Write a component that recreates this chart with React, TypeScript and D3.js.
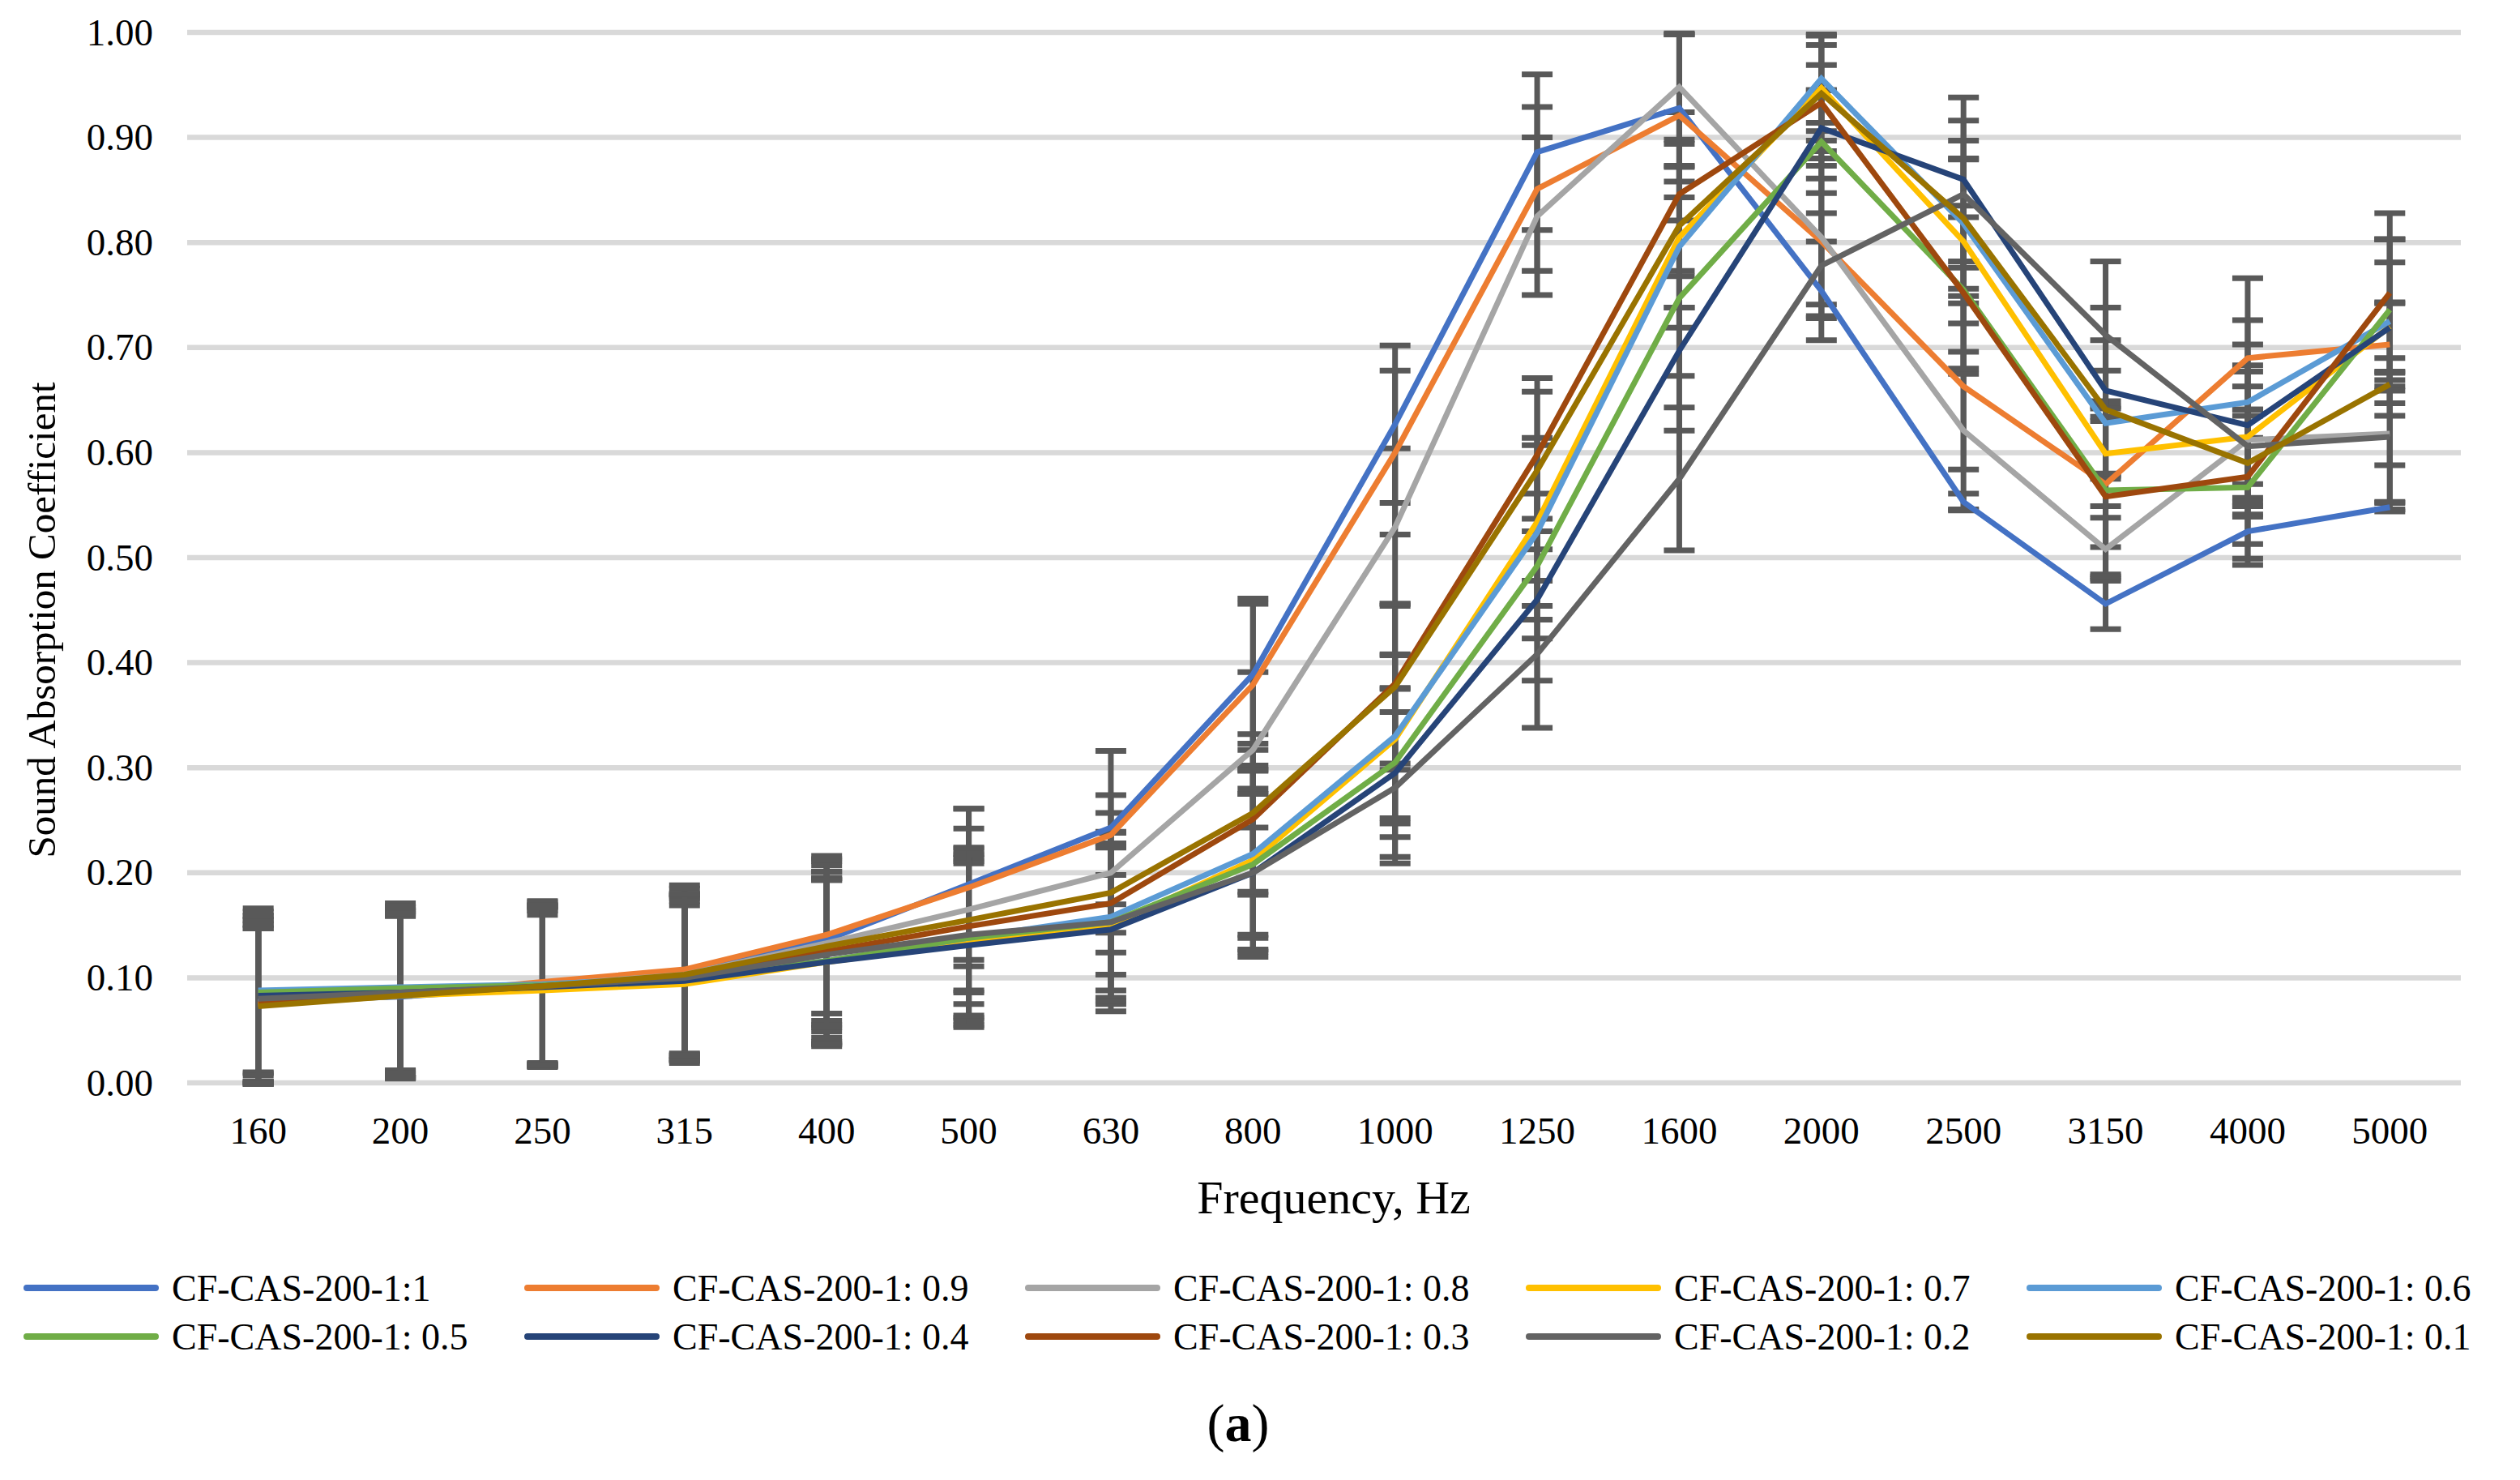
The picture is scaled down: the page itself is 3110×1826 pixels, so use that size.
import * as d3 from "d3";
import { useEffect, useRef } from "react";

const freqs = ["160", "200", "250", "315", "400", "500", "630", "800", "1000", "1250", "1600", "2000", "2500", "3150", "4000", "5000"];

const yTicks = [0, 0.1, 0.2, 0.3, 0.4, 0.5, 0.6, 0.7, 0.8, 0.9, 1.0];

const names = [
  "CF-CAS-200-1:1",
  "CF-CAS-200-1: 0.9",
  "CF-CAS-200-1: 0.8",
  "CF-CAS-200-1: 0.7",
  "CF-CAS-200-1: 0.6",
  "CF-CAS-200-1: 0.5",
  "CF-CAS-200-1: 0.4",
  "CF-CAS-200-1: 0.3",
  "CF-CAS-200-1: 0.2",
  "CF-CAS-200-1: 0.1",
];

const colors = ["#4472C4", "#ED7D31", "#A5A5A5", "#FFC000", "#5B9BD5", "#70AD47", "#264478", "#9E480E", "#636363", "#997300"];

// absorption coefficient per series
const s10 = [0.078, 0.082, 0.091, 0.106, 0.136, 0.189, 0.243, 0.389, 0.627, 0.886, 0.928, 0.754, 0.553, 0.456, 0.525, 0.548];
const s09 = [0.075, 0.084, 0.096, 0.108, 0.141, 0.186, 0.236, 0.379, 0.600, 0.851, 0.921, 0.801, 0.663, 0.570, 0.690, 0.703];
const s08 = [0.077, 0.085, 0.093, 0.103, 0.133, 0.165, 0.200, 0.317, 0.529, 0.825, 0.948, 0.805, 0.621, 0.508, 0.612, 0.618];
const s07 = [0.074, 0.083, 0.088, 0.094, 0.115, 0.133, 0.150, 0.212, 0.327, 0.534, 0.805, 0.947, 0.801, 0.599, 0.615, 0.720];
const s06 = [0.088, 0.091, 0.094, 0.100, 0.116, 0.138, 0.158, 0.218, 0.330, 0.524, 0.796, 0.956, 0.818, 0.628, 0.648, 0.725];
const s05 = [0.086, 0.090, 0.093, 0.099, 0.116, 0.138, 0.153, 0.208, 0.305, 0.492, 0.747, 0.896, 0.755, 0.564, 0.567, 0.736];
const s04 = [0.083, 0.086, 0.091, 0.097, 0.115, 0.131, 0.146, 0.200, 0.295, 0.460, 0.697, 0.909, 0.860, 0.659, 0.626, 0.719];
const s03 = [0.075, 0.084, 0.092, 0.101, 0.125, 0.149, 0.171, 0.251, 0.380, 0.598, 0.846, 0.933, 0.752, 0.558, 0.577, 0.752];
const s02 = [0.080, 0.086, 0.092, 0.100, 0.122, 0.141, 0.153, 0.200, 0.281, 0.408, 0.575, 0.778, 0.846, 0.712, 0.606, 0.615];
const s01 = [0.073, 0.083, 0.092, 0.103, 0.130, 0.155, 0.181, 0.257, 0.377, 0.583, 0.816, 0.942, 0.823, 0.641, 0.590, 0.665];

// error bar half-lengths per series
const e10 = [0.077, 0.077, 0.074, 0.079, 0.077, 0.072, 0.073, 0.072, 0.075, 0.074, 0.070, 0.047, 0.008, 0.024, 0.032, 0.004];
const e09 = [0.076, 0.079, 0.077, 0.080, 0.075, 0.075, 0.038, 0.077, 0.078, 0.078, 0.078, 0.060, 0.079, 0.060, 0.076, 0.040];
const e08 = [0.078, 0.080, 0.076, 0.077, 0.078, 0.077, 0.057, 0.074, 0.075, 0.075, 0.050, 0.075, 0.075, 0.030, 0.071, 0.072];
const e07 = [0.073, 0.076, 0.072, 0.075, 0.080, 0.078, 0.075, 0.085, 0.080, 0.080, 0.067, 0.041, 0.078, 0.050, 0.062, 0.061];
const e06 = [0.078, 0.080, 0.078, 0.078, 0.079, 0.076, 0.070, 0.080, 0.078, 0.083, 0.077, 0.042, 0.062, 0.050, 0.078, 0.078];
const e05 = [0.077, 0.078, 0.075, 0.077, 0.077, 0.079, 0.072, 0.067, 0.071, 0.069, 0.074, 0.049, 0.080, 0.080, 0.068, 0.067];
const e04 = [0.076, 0.077, 0.073, 0.076, 0.078, 0.078, 0.078, 0.075, 0.080, 0.077, 0.076, 0.036, 0.078, 0.079, 0.077, 0.084];
const e03 = [0.075, 0.080, 0.076, 0.078, 0.076, 0.074, 0.068, 0.072, 0.076, 0.073, 0.078, 0.036, 0.072, 0.076, 0.064, 0.076];
const e02 = [0.079, 0.081, 0.077, 0.079, 0.079, 0.077, 0.075, 0.080, 0.072, 0.070, 0.068, 0.050, 0.070, 0.070, 0.057, 0.062];
const e01 = [0.074, 0.078, 0.075, 0.077, 0.077, 0.069, 0.057, 0.075, 0.079, 0.075, 0.078, 0.055, 0.074, 0.066, 0.051, 0.077];

const values = [s10, s09, s08, s07, s06, s05, s04, s03, s02, s01];
const errors = [e10, e09, e08, e07, e06, e05, e04, e03, e02, e01];

const W = 3110;
const H = 1826;
const FONT = "'Liberation Serif', 'Times New Roman', serif";

export default function App() {
  const svgRef = useRef<SVGSVGElement | null>(null);

  useEffect(() => {
    if (!svgRef.current) return;
    const svg = d3.select(svgRef.current);
    svg.selectAll("*").remove();

    const x = d3.scaleBand<string>().domain(freqs).range([231, 3037]);
    const cx = (f: string) => x(f)! + x.bandwidth() / 2;
    const y = d3.scaleLinear().domain([0, 1]).range([1336, 40]);

    // grid
    svg.append("g")
      .selectAll("line")
      .data(yTicks)
      .join("line")
      .attr("x1", 231)
      .attr("x2", 3037)
      .attr("y1", (d) => y(d))
      .attr("y2", (d) => y(d))
      .attr("stroke", "#d9d9d9")
      .attr("stroke-width", 6.5);

    // y tick labels
    svg.append("g")
      .selectAll("text")
      .data(yTicks)
      .join("text")
      .attr("x", 189)
      .attr("y", (d) => y(d))
      .attr("dy", "0.33em")
      .attr("text-anchor", "end")
      .attr("font-family", FONT)
      .attr("font-size", 47)
      .text((d) => d3.format(".2f")(d));

    // x tick labels
    svg.append("g")
      .selectAll("text")
      .data(freqs)
      .join("text")
      .attr("x", (d) => cx(d))
      .attr("y", 1411)
      .attr("text-anchor", "middle")
      .attr("font-family", FONT)
      .attr("font-size", 47)
      .text((d) => d);

    // error bars (drawn beneath the lines)
    const eb = svg.append("g").attr("stroke", "#595959").attr("stroke-width", 7);
    values.forEach((vals, si) => {
      vals.forEach((v, i) => {
        const e = errors[si][i];
        const px = cx(freqs[i]);
        eb.append("line")
          .attr("x1", px).attr("x2", px)
          .attr("y1", y(v - e)).attr("y2", y(v + e));
        [v - e, v + e].forEach((c) => {
          eb.append("line")
            .attr("x1", px - 19).attr("x2", px + 19)
            .attr("y1", y(c)).attr("y2", y(c));
        });
      });
    });

    // series lines
    const line = d3.line<number>()
      .x((_, i) => cx(freqs[i]))
      .y((d) => y(d));

    values.forEach((vals, si) => {
      svg.append("path")
        .datum(vals)
        .attr("fill", "none")
        .attr("stroke", colors[si])
        .attr("stroke-width", 7)
        .attr("stroke-linejoin", "miter")
        .attr("d", line);
    });

    // axis titles
    svg.append("text")
      .attr("x", 1646)
      .attr("y", 1497)
      .attr("text-anchor", "middle")
      .attr("font-family", FONT)
      .attr("font-size", 58)
      .text("Frequency, Hz");

    svg.append("text")
      .attr("transform", "translate(68,765) rotate(-90)")
      .attr("text-anchor", "middle")
      .attr("font-family", FONT)
      .attr("font-size", 49)
      .text("Sound Absorption Coefficient");

    // legend
    const lg = svg.append("g");
    names.forEach((n, i) => {
      const col = i % 5;
      const row = Math.floor(i / 5);
      const ly = 1589 + row * 60;
      const lx = 29 + col * 618;
      lg.append("line")
        .attr("x1", lx + 4).attr("x2", lx + 163)
        .attr("y1", ly).attr("y2", ly)
        .attr("stroke", colors[i])
        .attr("stroke-width", 8)
        .attr("stroke-linecap", "round");
      lg.append("text")
        .attr("x", lx + 183)
        .attr("y", ly + 16)
        .attr("font-family", FONT)
        .attr("font-size", 46)
        .text(n);
    });

    // panel label
    const lab = svg.append("text")
      .attr("x", 1528)
      .attr("y", 1778)
      .attr("text-anchor", "middle")
      .attr("font-family", FONT)
      .attr("font-size", 66);
    lab.append("tspan").text("(");
    lab.append("tspan").attr("font-weight", "bold").text("a");
    lab.append("tspan").text(")");
  }, []);

  return (
    <svg
      ref={svgRef}
      width={W}
      height={H}
      viewBox={`0 0 ${W} ${H}`}
      style={{ position: "absolute", left: 0, top: 0, background: "#fff" }}
    />
  );
}
